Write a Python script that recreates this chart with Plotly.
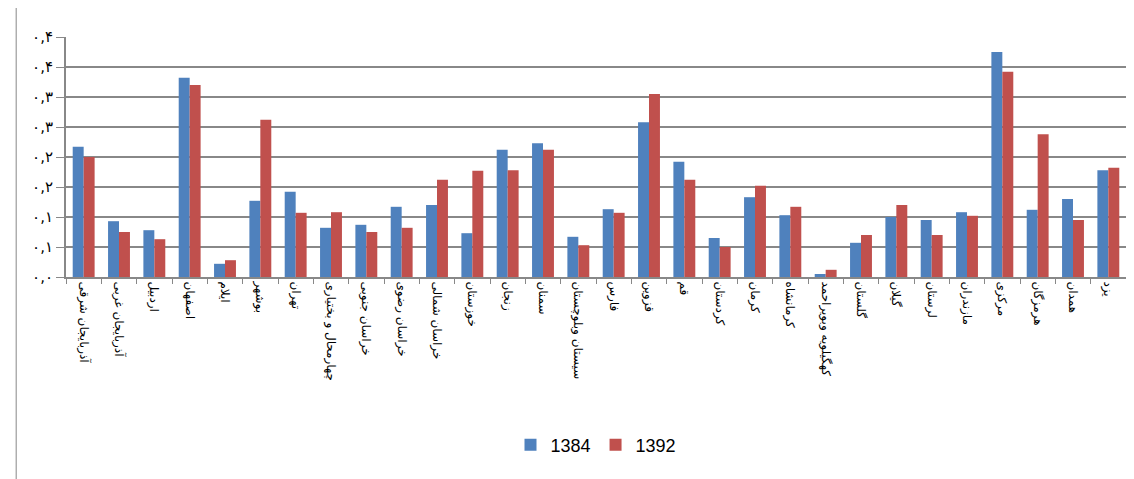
import plotly.graph_objects as go

provinces = ["آذربایجان شرقی","آذربایجان غربی","اردبیل","اصفهان","ایلام","بوشهر","تهران","چهارمحال و بختیاری","خراسان جنوبی","خراسان رضوی","خراسان شمالی","خوزستان","زنجان","سمنان","سیستان وبلوچستان","فارس","قزوین","قم","کردستان","کرمان","کرمانشاه","کهگیلویه وبویراحمد","گلستان","گیلان","لرستان","مازندران","مرکزی","هرمزگان","همدان","یزد"]
v1384 = [0.217,0.093,0.078,0.332,0.022,0.127,0.142,0.082,0.087,0.117,0.12,0.073,0.212,0.223,0.067,0.113,0.258,0.192,0.065,0.133,0.103,0.005,0.057,0.1,0.095,0.108,0.375,0.112,0.13,0.178]
v1392 = [0.2,0.075,0.063,0.32,0.028,0.262,0.107,0.108,0.075,0.082,0.162,0.177,0.178,0.212,0.053,0.107,0.305,0.162,0.05,0.152,0.117,0.012,0.07,0.12,0.07,0.102,0.342,0.238,0.095,0.182]
tick_vals = [0,0.05,0.1,0.15,0.2,0.25,0.3,0.35,0.4]
tick_text = ["۰,۰","۰,۱","۰,۱","۰,۲","۰,۲","۰,۳","۰,۳","۰,۴","۰,۴"]

fig = go.Figure()
fig.add_bar(x=provinces, y=v1384, name="1384", marker=dict(color="#4F81BD", line=dict(width=0)))
fig.add_bar(x=provinces, y=v1392, name="1392", marker=dict(color="#C0504D", line=dict(width=0)))
fig.update_layout(
    width=1134, height=479, paper_bgcolor="white", plot_bgcolor="white",
    margin=dict(l=58, r=16, t=29, b=210),
    barmode="group", bargap=0.38, bargroupgap=0,
    font=dict(family="DejaVu Sans", size=12, color="black"),
    showlegend=True,
    legend=dict(orientation="h", x=0.5, xanchor="center", y=-0.7, yanchor="middle", font=dict(size=18, family="Liberation Sans")),
    shapes=[dict(type="rect", xref="paper", yref="paper", x0=-0.047, x1=1.02, y0=-0.85, y1=1.2, line=dict(color="#888", width=1))],
)
fig.update_xaxes(tickangle=90, showline=True, linecolor="#888", linewidth=2, ticks="outside", tickson="boundaries", ticklen=5, tickcolor="#888", tickfont=dict(size=12))
fig.update_yaxes(range=[0,0.4], tickvals=tick_vals, ticktext=tick_text, showgrid=True, gridcolor="#888", gridwidth=1.5, showline=True, linecolor="#888", linewidth=2, ticks="outside", ticklen=8, tickcolor="#888", tickfont=dict(size=15, family="DejaVu Sans"), zeroline=False)
fig.write_html("out.html")
